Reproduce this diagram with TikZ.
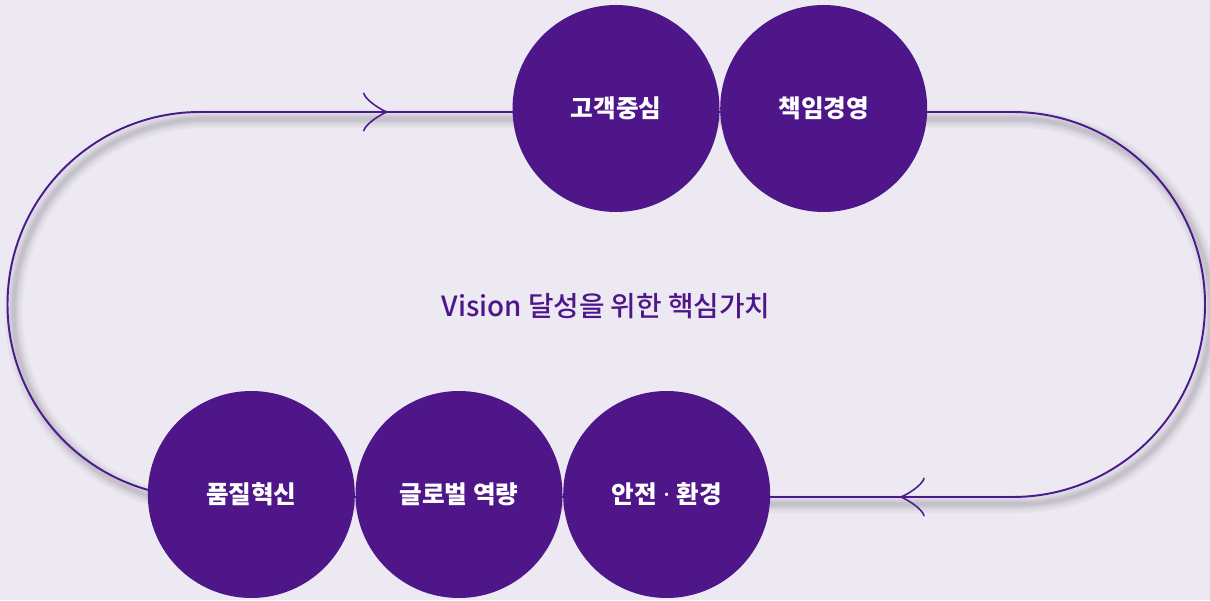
\documentclass[tikz,border=0pt]{standalone}
\usepackage{fontspec}
\setmainfont{Noto Sans CJK KR}
\newfontfamily\krmed{Noto Sans CJK KR}[UprightFont=* Medium]
\newfontfamily\latinf{Noto Sans}
\usetikzlibrary{arrows.meta, positioning, decorations.markings}
\definecolor{vpurple}{HTML}{4E1688}
\definecolor{vline}{HTML}{4B1A8C}
\definecolor{vback}{HTML}{ECE9F3}

\begin{document}
\begin{tikzpicture}[
		core/.style={circle,fill=vpurple,text=white,inner sep=0pt,minimum size=4.14cm,node distance=0cm,font=\fontsize{14}{17}\selectfont\bfseries},
		track/.style={draw=vline,line width=1.1pt},
		shad/.style={draw=black,line cap=round},
		loopmark/.style={decoration={markings,
			mark=at position 3.76cm with {\arrow{Classical TikZ Rightarrow[length=0.5cm,width=0.78cm]}},
			mark=at position 30.6cm with {\arrow{Classical TikZ Rightarrow[length=0.5cm,width=0.78cm]}}},
			postaction={decorate}}
	]
		\fill [vback] (0,0) rectangle (24.2,12);
		\useasboundingbox (0,0) rectangle (24.2,12);

		% shadow of the track
		\begin{scope}[shift={(0.12,-0.14)}]
			\foreach \w/\o in {0.36/0.03,0.26/0.04,0.16/0.05,0.08/0.05}
				\draw [shad,line width=\w cm,opacity=\o] (4,9.76) -- (20.25,9.76) arc[start angle=90,end angle=-90,radius=3.85] -- (4,2.06) arc[start angle=270,end angle=90,radius=3.85] -- cycle;
		\end{scope}

		\coordinate (ltop) at (4,9.76);
		\coordinate (rtop) at (20.25,9.76);
		\coordinate (lbot) at (4,2.06);
		\draw [track,loopmark] (ltop) -- (rtop) arc[start angle=90,end angle=-90,radius=3.85] -- (lbot) arc[start angle=270,end angle=90,radius=3.85] -- cycle;

		\node (gogk) [core] at (12.32,9.83) {고객중심};
		\node (chim) [core,right=of gogk] {책임경영};
		\node (glob) [core] at (9.18,2.11) {글로벌 역량};
		\node (pumj) [core,left=of glob] {품질혁신};
		\node (anje) [core,right=of glob] {안전{\latinf\bfseries\ ·\ }환경};

		\node (visn) at (12.12,5.88) [text=vpurple,font=\fontsize{15.8}{19}\selectfont\krmed] {Vision 달성을 위한 핵심가치};
	\end{tikzpicture}
\end{document}
